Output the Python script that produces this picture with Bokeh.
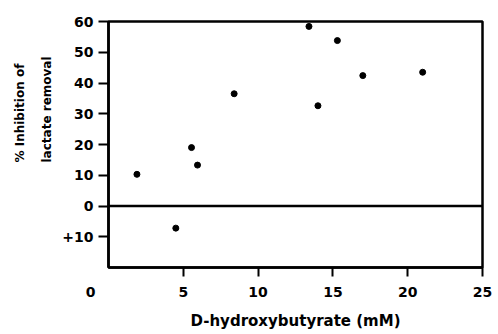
import math
from bokeh.plotting import figure
from bokeh.models import Range1d, FixedTicker, Span, Label, ColumnDataSource, Title
from bokeh.embed import file_html
from bokeh.resources import INLINE

# Data
hydroxybutyrate_mM = [1.9, 4.5, 5.55, 5.95, 8.4, 13.4, 14.0, 15.3, 17.0, 21.0]
inhibition_pct = [10.3, -7.2, 19.0, 13.3, 36.5, 58.4, 32.6, 53.8, 42.4, 43.5]

x_ticks = [5, 10, 15, 20, 25]
y_ticks = [-10, 0, 10, 20, 30, 40, 50, 60]
y_tick_overrides = {-10: "+10"}

FONT = "DejaVu Sans"

p = figure(width=492, height=332, output_backend="svg", toolbar_location=None,
           x_range=Range1d(0, 25), y_range=Range1d(-20, 60),
           min_border_left=108, min_border_right=10, min_border_top=21, min_border_bottom=64)

p.xgrid.visible = False
p.ygrid.visible = False
p.outline_line_color = "black"
p.outline_line_width = 2.5
p.background_fill_color = "white"
p.border_fill_color = "white"

src = ColumnDataSource(dict(x=hydroxybutyrate_mM, y=inhibition_pct))
p.scatter("x", "y", source=src, size=6, color="black")

p.add_layout(Span(location=0, dimension="width", line_color="black", line_width=2.5))

xa = p.xaxis[0]
xa.ticker = FixedTicker(ticks=x_ticks)
xa.minor_tick_line_color = None
xa.major_tick_in = 0
xa.major_tick_out = 9
xa.major_tick_line_width = 2
xa.major_tick_line_color = "black"
xa.axis_line_color = "black"
xa.axis_line_width = 2.5
xa.major_label_standoff = 10
xa.major_label_text_font = FONT
xa.major_label_text_font_style = "bold"
xa.major_label_text_font_size = "14px"
xa.major_label_text_color = "black"
xa.axis_label = "D-hydroxybutyrate (mM)"
xa.axis_label_text_font = FONT
xa.axis_label_text_font_style = "bold"
xa.axis_label_text_font_size = "15px"
xa.axis_label_text_color = "black"
xa.axis_label_standoff = 12

ya = p.yaxis[0]
ya.ticker = FixedTicker(ticks=y_ticks)
ya.major_label_overrides = y_tick_overrides
ya.minor_tick_line_color = None
ya.major_tick_in = 0
ya.major_tick_out = 10
ya.major_tick_line_width = 2
ya.major_tick_line_color = "black"
ya.axis_line_color = "black"
ya.axis_line_width = 2.5
ya.major_label_standoff = 5
ya.major_label_text_font = FONT
ya.major_label_text_font_style = "bold"
ya.major_label_text_font_size = "14px"
ya.major_label_text_color = "black"

# "0" label of the x axis, hosted by a side panel right of the frame
lbl0 = Label(x=-392, y=-19, x_units="screen", y_units="screen", text="0",
             text_align="center", text_baseline="top", text_font=FONT,
             text_font_style="bold", text_font_size="14px", text_color="black")
p.add_layout(lbl0, "right")

# Two-line y axis title as side titles
for txt, so in [("lactate removal", 11), ("% Inhibition of", 12)]:
    p.add_layout(Title(text=txt, align="left", offset=105, standoff=so,
                       text_font=FONT, text_font_style="bold", text_font_size="12px",
                       text_color="black"), "left")

open("out.html", "w").write(file_html(p, INLINE))
